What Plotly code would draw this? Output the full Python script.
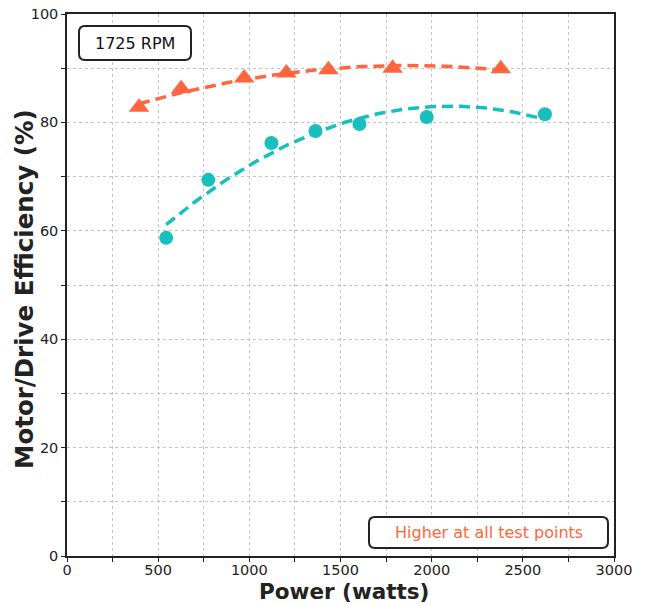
import numpy as np
import plotly.graph_objects as go

# Data
tri_power = [395, 626, 972, 1203, 1434, 1786, 2379]
tri_eff = [82.8, 86.2, 88.2, 89.1, 89.7, 90.0, 89.9]
circ_power = [544, 775, 1121, 1363, 1604, 1973, 2621]
circ_eff = [58.7, 69.4, 76.2, 78.4, 79.7, 81.0, 81.5]

x_ticks = [0, 500, 1000, 1500, 2000, 2500, 3000]
y_ticks = [0, 20, 40, 60, 80, 100]

ORANGE = "#FF6640"
TEAL = "#17BFBF"
FONT = "DejaVu Sans"

def fit_curve(x, y):
    c = np.polyfit(x, y, 2)
    xs = np.linspace(min(x), max(x), 100)
    return xs, np.polyval(c, xs)

fig = go.Figure()
for px, py, col, sym, sz in [(tri_power, tri_eff, ORANGE, "triangle-up", 18),
                             (circ_power, circ_eff, TEAL, "circle", 14)]:
    fx, fy = fit_curve(px, py)
    fig.add_trace(go.Scatter(x=fx, y=fy, mode="lines",
                             line=dict(color=col, width=3.5, dash="11px,6px"),
                             hoverinfo="skip", showlegend=False))
    fig.add_trace(go.Scatter(x=px, y=py, mode="markers",
                             marker=dict(color=col, symbol=sym, size=sz),
                             showlegend=False))

axis_common = dict(showline=True, linecolor="#222", linewidth=1.5, mirror=True,
                   ticks="outside", ticklen=4, tickcolor="#222", automargin=False,
                   showgrid=True, gridcolor="#c4c4c4", griddash="dot", gridwidth=1,
                   zeroline=False, tickfont=dict(size=14.5, color="#222", family=FONT))

fig.update_xaxes(range=[0, 3000], tickvals=x_ticks, ticklabelstandoff=-4,
                 minor=dict(dtick=250, ticks="outside", ticklen=4, tickcolor="#222",
                            showgrid=True, gridcolor="#c4c4c4", griddash="dot"),
                 **axis_common)
fig.update_yaxes(range=[0, 100], tickvals=y_ticks,
                 minor=dict(dtick=10, ticks="outside", ticklen=4, tickcolor="#222",
                            showgrid=True, gridcolor="#c4c4c4", griddash="dot"),
                 **axis_common)

W, H = 651, 605
L, R, T, B = 67, 37, 14, 49
pw, ph = W - L - R, H - T - B

def px2paper(x, y):
    return (x - L) / pw, 1 - (y - T) / ph

def add_box(x0, y0, x1, y1):
    a0, b0 = px2paper(x0, y1)
    a1, b1 = px2paper(x1, y0)
    rx = 6 / pw
    ry = 6 / ph
    path = (f"M{a0+rx},{b0} L{a1-rx},{b0} Q{a1},{b0} {a1},{b0+ry} L{a1},{b1-ry} Q{a1},{b1} {a1-rx},{b1} "
            f"L{a0+rx},{b1} Q{a0},{b1} {a0},{b1-ry} L{a0},{b0+ry} Q{a0},{b0} {a0+rx},{b0} Z")
    fig.add_shape(type="path", path=path, xref="paper", yref="paper",
                  line=dict(color="#222", width=2), fillcolor="white", layer="above")

def add_text(x, y, text, size, color, angle=0, yanchor="middle"):
    cx, cy = px2paper(x, y)
    fig.add_annotation(x=cx, y=cy, xref="paper", yref="paper", text=text, showarrow=False,
                       xanchor="center", yanchor=yanchor, textangle=angle,
                       font=dict(size=size, color=color, family=FONT))

add_box(79, 26, 191, 60)
add_box(369, 517, 608, 548)
add_text(135, 43, "1725 RPM", 16, "#111")
add_text(488.5, 532.5, "Higher at all test points", 16, ORANGE)
add_text(343.5, 606, "<b>Power (watts)</b>", 21.5, "#222", yanchor="bottom")
add_text(24, 289, "<b>Motor/Drive Efficiency (%)</b>", 24.5, "#222", angle=-90)

fig.update_layout(width=W, height=H, margin=dict(l=L, r=R, t=T, b=B, autoexpand=False),
                  plot_bgcolor="white", paper_bgcolor="white",
                  font=dict(family=FONT))

fig.write_html("out.html", post_script="document.body.style.margin='0';",
               config={"displayModeBar": False})
